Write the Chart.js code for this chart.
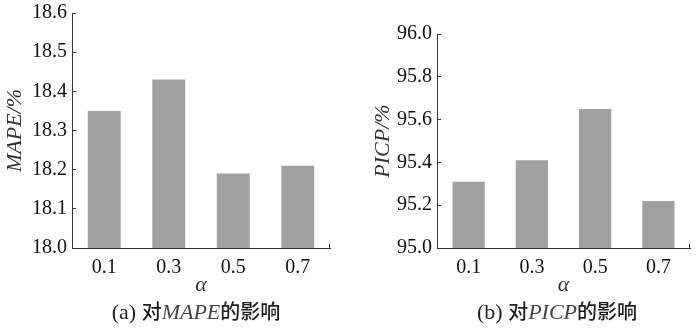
<!DOCTYPE html>
<html>
<head>
<meta charset="utf-8">
<script src="https://cdn.jsdelivr.net/npm/chart.js@4/dist/chart.umd.min.js"></script>
<style>
  body { margin: 0; background: #fff; }
  #wrap { position: relative; width: 700px; height: 328px; overflow: hidden; }
  .box { position: absolute; }
  .cap { position: absolute; top: 297px; height: 28px; line-height: 28px; white-space: nowrap;
         transform: translateX(-50%); color: #1e1e1e; }
  .ser { font-family: "Liberation Serif", serif; font-size: 22px; }
  .it { font-family: "Liberation Serif", serif; font-style: italic; font-size: 22px; color: #444; }
  .zh { font-family: "Noto Sans CJK SC", sans-serif; font-size: 20px; font-weight: 500; }
</style>
</head>
<body>
<div id="wrap">
  <div class="box" style="left:0;top:-8px;width:340px;height:309px"><canvas id="chartA"></canvas></div>
  <div class="box" style="left:350px;top:13px;width:350px;height:288px"><canvas id="chartB"></canvas></div>
  <div class="cap" style="left:196px"><span class="ser">(a) </span><span class="zh">对</span><span class="it">MAPE</span><span class="zh">的影响</span></div>
  <div class="cap" style="left:557px"><span class="ser">(b) </span><span class="zh">对</span><span class="it">PICP</span><span class="zh">的影响</span></div>
</div>
<script>
const alphas = ['0.1', '0.3', '0.5', '0.7'];
const mapeValues = [18.35, 18.43, 18.19, 18.21];
const picpValues = [95.31, 95.41, 95.65, 95.22];

const serif = "'Liberation Serif', 'Times New Roman', serif";
const axisColor = '#333';
const barColor = '#a0a0a0';

// small upward tick at the right end of the x axis
const endTick = {
    id: 'endTick',
    afterDraw(chart) {
        const ctx = chart.ctx;
        const x = chart.scales.x;
        ctx.save();
        ctx.strokeStyle = axisColor;
        ctx.lineWidth = 1;
        ctx.beginPath();
        ctx.moveTo(Math.round(x.right) - 0.5, x.top);
        ctx.lineTo(Math.round(x.right) - 0.5, x.top - 4);
        ctx.stroke();
        ctx.restore();
    }
};

function makeChart(id, values, min, max, step, yTitle, yWidth, titlePad) {
    const ctx = document.getElementById(id).getContext('2d');
    return new Chart(ctx, {
        type: 'bar',
        data: {
            labels: alphas,
            datasets: [{
                data: values,
                backgroundColor: barColor,
                borderWidth: 0,
                categoryPercentage: 1,
                barPercentage: 0.51
            }]
        },
        options: {
            responsive: true,
            maintainAspectRatio: false,
            animation: false,
            layout: { padding: { top: 0, right: 10, left: 0, bottom: 0 } },
            plugins: { legend: { display: false }, tooltip: { enabled: false } },
            scales: {
                x: {
                    grid: { display: false },
                    border: { display: true, color: axisColor, width: 1 },
                    ticks: { color: '#111', font: { family: serif, size: 20 }, padding: 0 },
                    title: { display: true, text: 'α', color: '#333',
                             font: { family: serif, size: 22, style: 'italic' }, padding: { top: 0, bottom: 3 } },
                    afterFit(scale) { scale.height = 53; }
                },
                y: {
                    min: min, max: max,
                    grid: { drawOnChartArea: false, drawTicks: true, tickLength: -4, color: axisColor },
                    border: { display: true, color: axisColor, width: 1 },
                    ticks: {
                        stepSize: step, color: '#111', padding: 9,
                        font: { family: serif, size: 20 },
                        callback: v => v.toFixed(1)
                    },
                    title: { display: true, text: yTitle, color: '#333',
                             font: { family: serif, size: 22, style: 'italic' }, padding: { top: titlePad, bottom: 0 } },
                    afterFit(scale) { scale.width = yWidth; }
                }
            }
        },
        plugins: [endTick]
    });
}

makeChart('chartA', mapeValues, 18.0, 18.6, 0.1, 'MAPE/%', 72, 2);
makeChart('chartB', picpValues, 95.0, 96.0, 0.2, 'PICP/%', 87, 20);
</script>
</body>
</html>
